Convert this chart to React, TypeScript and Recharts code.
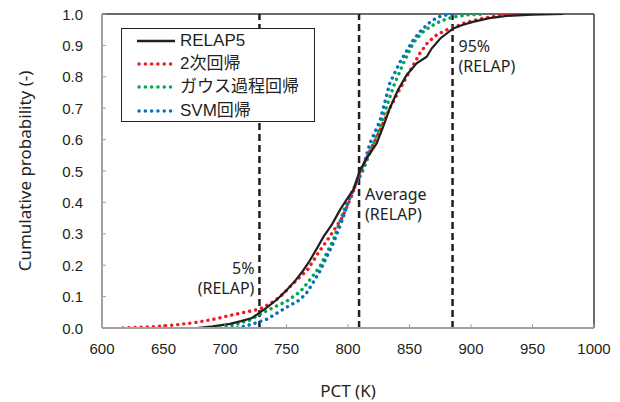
import { LineChart, Line, XAxis, YAxis, ReferenceLine, Legend } from 'recharts'

// 累積確率分布 (PCT)
const seriesNames = ['RELAP5', '2次回帰', 'ガウス過程回帰', 'SVM回帰']
const seriesColors = ['#231f20', '#ed1c24', '#00a650', '#0072bc']

const relapK = [677, 690, 704, 713, 722, 728.5, 735, 742, 750, 757, 763, 769, 775, 780, 787, 793.5, 799, 804.3, 809.8, 816, 823.3, 829, 834, 840.6, 847.7, 855.8, 864, 868, 875, 885.6, 893, 901.6, 915, 929, 950, 975]
const relapP = [0, 0.005, 0.013, 0.022, 0.032, 0.05, 0.068, 0.09, 0.12, 0.15, 0.18, 0.215, 0.255, 0.29, 0.33, 0.376, 0.41, 0.44, 0.503, 0.545, 0.588, 0.645, 0.7, 0.758, 0.806, 0.843, 0.864, 0.89, 0.922, 0.954, 0.965, 0.975, 0.987, 0.994, 0.998, 1.0]

const quadK = [617, 630, 645, 660, 675, 690, 704, 716, 728, 737, 745, 755, 767, 776, 785, 795, 803, 810, 818, 826, 834, 842, 850, 858.5, 865, 872, 880, 885, 895, 910, 925, 940]
const quadP = [0, 0.002, 0.005, 0.01, 0.017, 0.027, 0.04, 0.05, 0.06, 0.078, 0.1, 0.14, 0.185, 0.24, 0.29, 0.35, 0.42, 0.5, 0.565, 0.63, 0.7, 0.76, 0.816, 0.875, 0.91, 0.933, 0.949, 0.955, 0.972, 0.987, 0.996, 1.0]

const gaussK = [696, 708, 720, 734, 750, 761, 767, 777, 788, 799, 808, 812, 819, 826, 831, 837, 845, 853, 860, 867, 875, 885, 897, 910]
const gaussP = [0, 0.01, 0.025, 0.055, 0.085, 0.115, 0.143, 0.195, 0.28, 0.4, 0.47, 0.5, 0.57, 0.64, 0.7, 0.77, 0.843, 0.907, 0.94, 0.96, 0.977, 0.99, 0.997, 1.0]

const svmK = [710, 722, 734, 750, 761, 767, 777, 788, 795, 801.6, 808, 812, 818, 826, 830, 834, 842, 853, 860, 867, 873, 880, 886]
const svmP = [0, 0.012, 0.028, 0.066, 0.09, 0.115, 0.18, 0.27, 0.34, 0.417, 0.47, 0.51, 0.59, 0.66, 0.72, 0.78, 0.845, 0.917, 0.95, 0.975, 0.99, 0.997, 1.0]

const xTicks = [600, 650, 700, 750, 800, 850, 900, 950, 1000]
const yTicks = [0, 0.1, 0.2, 0.3, 0.4, 0.5, 0.6, 0.7, 0.8, 0.9, 1.0]

// 参照線 (RELAP の 5% / 平均 / 95%)
const refX = [728, 809, 885]
const refLines = [['5%', '(RELAP)'], ['Average', '(RELAP)'], ['95%', '(RELAP)']]
const refLabelP = [[0.172, 0.108], [0.408, 0.344], [0.878, 0.814]]
const refLabelSide = ['left', 'right', 'right']

const toPoints = (k: number[], p: number[]) => k.map((v, i) => ({ k: v, p: p[i] }))
const seriesData = [toPoints(relapK, relapP), toPoints(quadK, quadP), toPoints(gaussK, gaussP), toPoints(svmK, svmP)]

const tickFont = '"Liberation Sans", Arial, sans-serif'
const noteFont = '"Noto Sans", sans-serif'
const textColor = '#231f20'

const XTick = ({ x, y, payload }: any) => (
  <g>
    <line x1={x} y1={y} x2={x} y2={y - 4} stroke="#a0a0a0" strokeWidth={1} />
    <text x={x} y={y + 26} textAnchor="middle" fontSize={15} fontFamily={tickFont} fill={textColor}>
      {payload.value}
    </text>
  </g>
)

const YTick = ({ x, y, payload }: any) => (
  <g>
    <line x1={x} y1={y} x2={x + 4} y2={y} stroke="#a0a0a0" strokeWidth={1} />
    <text x={x - 19} y={y + 5.5} textAnchor="end" fontSize={15} fontFamily={tickFont} fill={textColor}>
      {Number(payload.value).toFixed(1)}
    </text>
  </g>
)

const renderLegend = () => (
  <div
    style={{
      boxSizing: 'border-box',
      width: 194,
      height: 94,
      border: '1.5px solid #231f20',
      background: '#fff',
      paddingLeft: 15,
      paddingTop: 0,
    }}
  >
    {seriesNames.map((name, i) => (
      <div key={name} style={{ display: 'flex', alignItems: 'center', height: 23.4 }}>
        <svg width={40} height={6} style={{ display: 'block' }}>
          {i === 0 ? (
            <line x1={0} y1={3} x2={38} y2={3} stroke={seriesColors[i]} strokeWidth={2.5} />
          ) : (
            <line x1={2} y1={3} x2={36} y2={3} stroke={seriesColors[i]} strokeWidth={3.4}
              strokeDasharray="0.1 6.2" strokeLinecap="round" />
          )}
        </svg>
        <span style={{ marginLeft: 3, fontSize: 17, fontFamily: '"Liberation Sans", "Noto Sans CJK JP", sans-serif', color: textColor, lineHeight: '20px' }}>
          {name}
        </span>
      </div>
    ))}
  </div>
)

export default function App() {
  return (
    <div style={{ position: 'absolute', left: 0, top: 0, width: 620, height: 402, background: '#fff' }}>
      <LineChart width={620} height={402} margin={{ top: 14, right: 26, left: 0, bottom: 0 }}>
        <XAxis
          type="number"
          dataKey="k"
          domain={[600, 1000]}
          ticks={xTicks}
          allowDataOverflow
          height={74}
          tickSize={0}
          tickMargin={0}
          tickLine={false}
          tick={<XTick />}
          axisLine={{ stroke: '#a0a0a0', strokeWidth: 2 }}
          label={(props: any) => {
            const vb = props.viewBox
            return (
              <text x={vb.x + vb.width / 2} y={vb.y + 69} textAnchor="middle" fontSize={17} fontFamily={noteFont} fill={textColor}>
                PCT (K)
              </text>
            )
          }}
        />
        <YAxis
          type="number"
          dataKey="p"
          domain={[0, 1]}
          ticks={yTicks}
          allowDataOverflow
          width={102}
          tickSize={0}
          tickMargin={0}
          tickLine={false}
          tick={<YTick />}
          axisLine={{ stroke: '#a0a0a0', strokeWidth: 2 }}
          label={(props: any) => {
            const vb = props.viewBox
            const cx = vb.x + 24
            const cy = vb.y + vb.height / 2
            return (
              <text x={cx} y={cy} transform={`rotate(-90 ${cx} ${cy})`} textAnchor="middle" dominantBaseline="central"
                fontSize={17} fontFamily={noteFont} fill={textColor}>
                Cumulative probability (-)
              </text>
            )
          }}
        />
        <ReferenceLine y={1} stroke="#3a3a3a" strokeWidth={1.5} />
        <ReferenceLine x={1000} stroke="#3a3a3a" strokeWidth={1.5} />
        {refX.map((xv, i) => (
          <ReferenceLine
            key={xv}
            x={xv}
            stroke={textColor}
            strokeWidth={2.5}
            strokeDasharray="7 4"
            label={(props: any) => {
              const vb = props.viewBox
              const left = refLabelSide[i] === 'left'
              const tx = left ? vb.x - 5 : vb.x + 6
              return (
                <g>
                  {refLines[i].map((t, j) => (
                    <text key={j} x={tx} y={vb.y + vb.height * (1 - refLabelP[i][j])} textAnchor={left ? 'end' : 'start'}
                      fontSize={16} fontFamily={noteFont} fill={textColor}>
                      {t}
                    </text>
                  ))}
                </g>
              )
            }}
          />
        ))}
        {[1, 2, 3].map((i) => (
          <Line
            key={seriesNames[i]}
            data={seriesData[i]}
            dataKey="p"
            name={seriesNames[i]}
            type="linear"
            stroke={seriesColors[i]}
            strokeWidth={3.4}
            strokeDasharray="0.1 6"
            strokeLinecap="round"
            dot={false}
            isAnimationActive={false}
          />
        ))}
        <Line
          data={seriesData[0]}
          dataKey="p"
          name={seriesNames[0]}
          type="linear"
          stroke={seriesColors[0]}
          strokeWidth={2.2}
          dot={false}
          isAnimationActive={false}
        />
        <Legend
          content={renderLegend}
          layout="vertical"
          align="center"
          verticalAlign="middle"
          wrapperStyle={{ left: 121, top: 28, width: 194, height: 94 }}
        />
      </LineChart>
    </div>
  )
}
